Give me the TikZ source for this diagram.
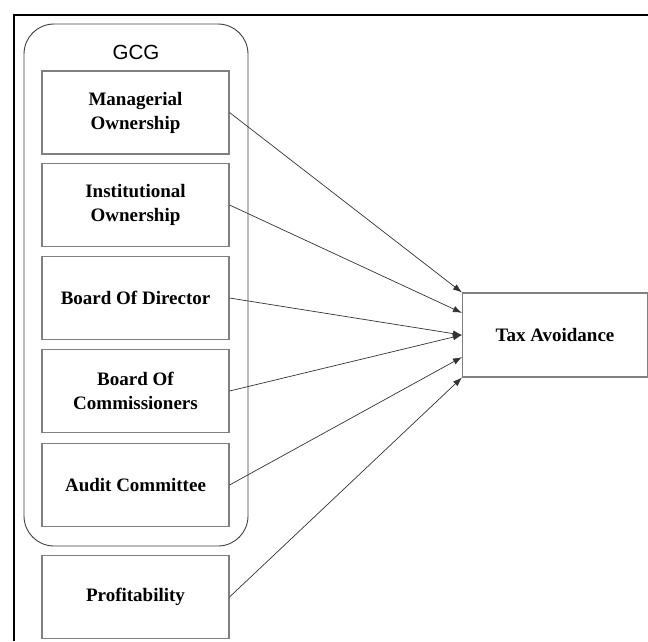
\documentclass[tikz,border=0pt]{standalone}
\usepackage{fontspec}
\setmainfont{Liberation Serif}
\newfontfamily\gcgfont{Liberation Sans}
\usetikzlibrary{positioning}
\usetikzlibrary{calc}
\usetikzlibrary{arrows.meta}

\begin{document}
\begin{tikzpicture}[
    x=1pt, y=-1pt,
    >={Latex[length=9pt,width=6.5pt]},
    every node/.style={font=\bfseries\fontsize{19}{24}\selectfont},
    group/.style={draw=black!75, line width=0.9pt, rounded corners=30pt, minimum width=224pt, minimum height=522pt},
    var/.style={draw=black!50, line width=1.1pt, minimum width=187pt, minimum height=83pt, align=center, inner sep=0pt},
    result/.style={draw=black!50, line width=1.1pt, minimum width=185pt, minimum height=84pt, align=center, inner sep=0pt},
    link/.style={->, draw=black!80, line width=0.7pt}
]
\useasboundingbox (0,0) rectangle (648,641);
\draw[line width=1.3pt] (14,641) -- (14,15) -- (648,15);

\node[group] (gcg) at (136,285) {};
\node[font=\gcgfont\fontsize{20.5}{24}\selectfont] (gcgtitle) at (136,52) {GCG};

\node[var] (mo) at (135.5,112.5) {Managerial\\Ownership};
\node[var] (io) at (135.5,205) {Institutional\\Ownership};
\node[var] (bod) at (135.5,298) {Board Of Director};
\node[var] (boc) at (135.5,391) {Board Of\\Commissioners};
\node[var] (ac) at (135.5,485) {Audit Committee};
\node[var] (prof) at (135.5,597) {Profitability};

\node[result] (tax) at (555,335) {Tax Avoidance};

\draw[link] (mo.east) -- (tax.north west);
\draw[link] (io.east) -- ($(tax.north west)!0.24!(tax.south west)$);
\draw[link] (bod.east) -- (tax.west);
\draw[link] (boc.east) -- (tax.west);
\draw[link] (ac.east) -- ($(tax.north west)!0.76!(tax.south west)$);
\draw[link] (prof.east) -- (tax.south west);
\end{tikzpicture}
\end{document}
